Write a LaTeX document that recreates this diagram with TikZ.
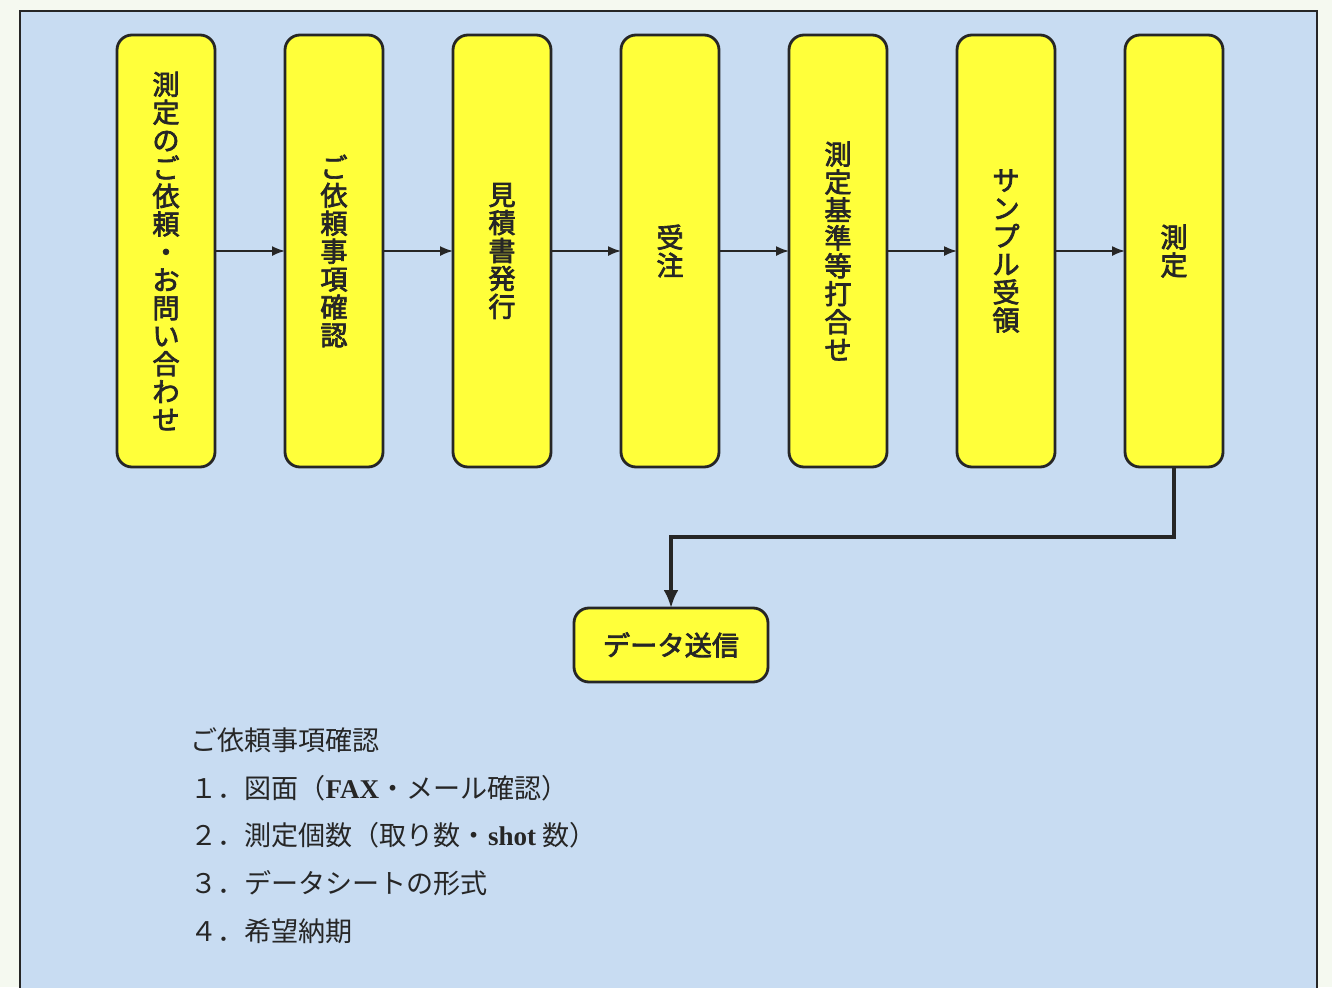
\documentclass[tikz,border=0pt]{standalone}
\usepackage{fontspec}
\setmainfont{Noto Sans CJK JP}
\newfontfamily\stepfont[FakeBold=2.5]{Noto Sans CJK JP}
\newfontfamily\latinserif{Liberation Serif}
\usepackage{tikz}
\usetikzlibrary{arrows.meta,positioning}
\usepackage{xcolor}
\definecolor{pagebg}{RGB}{245,249,240}
\definecolor{panelblue}{RGB}{200,220,242}
\definecolor{stepyellow}{RGB}{255,255,58}
\definecolor{edgegray}{RGB}{38,38,38}
\tikzstyle{stepbox} = [rectangle, rounded corners=0.3cm, minimum width=1.96cm, minimum height=8.64cm, align=center, draw=edgegray, fill=stepyellow, line width=1.6pt, inner sep=0pt, outer sep=0pt, text=edgegray, font={\stepfont\fontsize{15.5pt}{15.9pt}\selectfont}]
\tikzstyle{arrow} = [line width=1pt, draw=edgegray, -{Latex[length=0.26cm,width=0.2cm]}]
\tikzstyle{bigarrow} = [line width=2pt, draw=edgegray, -{Latex[length=0.36cm,width=0.3cm]}]
\tikzstyle{notetext} = [anchor=base west, inner sep=0pt, text=edgegray, font={\fontsize{15.4pt}{18pt}\selectfont}]

\begin{document}
\begin{tikzpicture}
\useasboundingbox[fill=pagebg] (0,0) rectangle (26.64,-19.74);
% Panel
\draw[edgegray, line width=1pt, fill=panelblue] (0.4,-0.22) rectangle (26.34,-20.5);

% Flow steps
\node (req) [stepbox] at (3.32,-5.02) {測\\定\\の\\ご\\依\\頼\\・\\お\\問\\い\\合\\わ\\せ};
\node (check) [stepbox, right=1.4cm of req] {ご\\依\\頼\\事\\項\\確\\認};
\node (quote) [stepbox, right=1.4cm of check] {見\\積\\書\\発\\行};
\node (order) [stepbox, right=1.4cm of quote] {受\\注};
\node (meet) [stepbox, right=1.4cm of order] {測\\定\\基\\準\\等\\打\\合\\せ};
\node (sample) [stepbox, right=1.4cm of meet] {サ\\ン\\プ\\ル\\受\\領};
\node (measure) [stepbox, right=1.4cm of sample] {測\\定};
\node (data) [stepbox, minimum width=3.88cm, minimum height=1.48cm, font={\stepfont\fontsize{15.5pt}{18pt}\selectfont}] at (13.42,-12.9) {データ送信};

% Arrows
\draw[arrow] (req) -- (check);
\draw[arrow] (check) -- (quote);
\draw[arrow] (quote) -- (order);
\draw[arrow] (order) -- (meet);
\draw[arrow] (meet) -- (sample);
\draw[arrow] (sample) -- (measure);
\draw[bigarrow] (measure.south) -- ++(0,-1.4) -| (data.north);

% Notes
\node (notehead) [notetext] at (3.8,-15.0) {ご依頼事項確認};
\node (note1) [notetext] at (3.8,-15.96) {１．図面（{\latinserif\bfseries FAX}・メール確認）};
\node (note2) [notetext] at (3.8,-16.9) {２．測定個数（取り数・{\latinserif\bfseries shot} 数）};
\node (note3) [notetext] at (3.8,-17.86) {３．データシートの形式};
\node (note4) [notetext] at (3.8,-18.82) {４．希望納期};
\end{tikzpicture}
\end{document}
